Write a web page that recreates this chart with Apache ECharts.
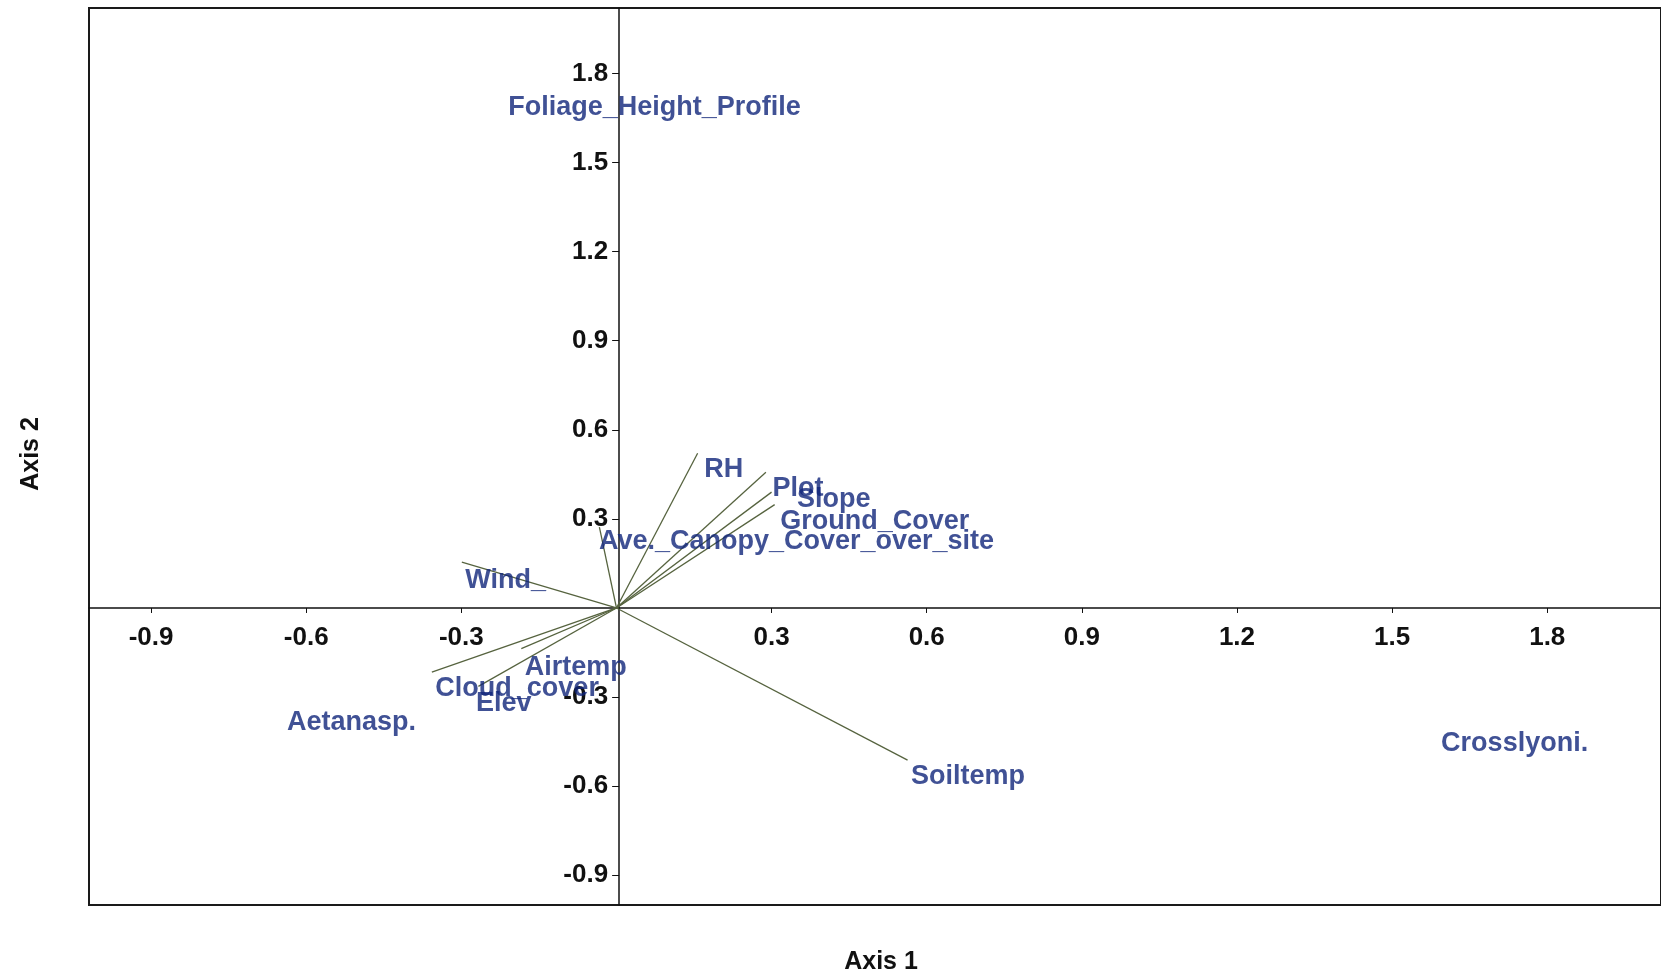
<!DOCTYPE html>
<html>
<head>
<meta charset="utf-8">
<script src="https://cdn.jsdelivr.net/npm/echarts@6/dist/echarts.min.js"></script>
<style>
  html, body { margin: 0; padding: 0; background: #fff; }
  #chart { width: 1661px; height: 970px; }
</style>
</head>
<body>
<div id="chart"></div>
<script>
// ---- data ----
const xTicks = [-0.9, -0.6, -0.3, 0.3, 0.6, 0.9, 1.2, 1.5, 1.8];
const yTicks = [-0.9, -0.6, -0.3, 0.3, 0.6, 0.9, 1.2, 1.5, 1.8];

// environmental vectors (biplot arrows from origin)
const vectorNames = ['RH', 'Plot', 'Slope', 'Ground_Cover', 'Ave._Canopy_Cover_over_site',
                     'Wind_', 'Cloud_cover', 'Elev', 'Airtemp', 'Soiltemp'];
const vectorX = [0.157, 0.289, 0.300, 0.306, -0.033, -0.299, -0.357, -0.267, -0.184, 0.563];
const vectorY = [0.521, 0.457, 0.390, 0.348, 0.272, 0.154, -0.216, -0.264, -0.137, -0.512];

// label-only points (species and un-drawn vector)
const pointNames = ['Foliage_Height_Profile', 'Aetanasp.', 'Crosslyoni.'];
const pointX = [-0.216, -0.644, 1.588];
const pointY = [1.738, -0.331, -0.402];

// ---- styling / layout ----
const FONT = '"Liberation Sans", Arial, sans-serif';
const BLUE = '#10267a';
const LINE = '#56633f';
const labelNudge = {
  'RH': [3, 0], 'Plot': [3, 0], 'Slope': [22, -9],
  'Ave._Canopy_Cover_over_site': [-4, -2], 'Elev': [-6, 1],
  'Airtemp': [0, 3], 'Wind_': [0, 2], 'Ground_Cover': [2, 1], 'Soiltemp': [0, 0]
};
const W = 1661, H = 970;
const G = { left: 89, right: -8, top: 8, bottom: 65 };
const X_MIN = -1.02, X_MAX = 2.02, Y_MIN = -1.0, Y_MAX = 2.02;
const gw = W - G.left - G.right, gh = H - G.top - G.bottom;
const yAxisOffset = -gw * (0 - X_MIN) / (X_MAX - X_MIN);
const xAxisOffset = -gh * (0 - Y_MIN) / (Y_MAX - Y_MIN);

const chart = echarts.init(document.getElementById('chart'));

const vecLines = vectorNames.map((n, i) => ({ coords: [[0, 0], [vectorX[i], vectorY[i]]] }));
const vecLabels = vectorNames.map((n, i) => {
  const d = { name: n, value: [vectorX[i], vectorY[i]] };
  if (labelNudge[n]) d.label = { offset: labelNudge[n] };
  return d;
});
const ptLabels = pointNames.map((n, i) => ({ name: n, value: [pointX[i], pointY[i]] }));

const labelStyle = {
  show: true,
  formatter: '{b}',
  position: [4, 3],
  align: 'left',
  verticalAlign: 'top',
  color: BLUE,
  fontFamily: FONT,
  fontWeight: 'bold',
  fontSize: 27
};

chart.setOption({
  animation: false,
  backgroundColor: '#fff',
  grid: {
    show: true,
    left: G.left, right: G.right, top: G.top, bottom: G.bottom,
    borderColor: '#1a1a1a', borderWidth: 2,
    backgroundColor: 'transparent'
  },
  xAxis: {
    type: 'value', min: X_MIN, max: X_MAX, position: 'bottom', offset: xAxisOffset,
    axisLine: { onZero: false, lineStyle: { color: '#111', width: 1.5 } },
    axisTick: { show: true, customValues: xTicks, length: 5, lineStyle: { color: '#111' } },
    axisLabel: {
      customValues: xTicks, margin: 17, color: '#111',
      fontFamily: FONT, fontWeight: 'bold', fontSize: 26,
      formatter: v => v.toFixed(1)
    },
    splitLine: { show: false }
  },
  yAxis: {
    type: 'value', min: Y_MIN, max: Y_MAX, position: 'left', offset: yAxisOffset,
    axisLine: { onZero: false, lineStyle: { color: '#111', width: 1.5 } },
    axisTick: { show: true, customValues: yTicks, length: 7, lineStyle: { color: '#111' } },
    axisLabel: {
      customValues: yTicks, margin: 11, color: '#111',
      fontFamily: FONT, fontWeight: 'bold', fontSize: 26,
      formatter: v => v.toFixed(1)
    },
    splitLine: { show: false }
  },
  graphic: [
    { type: 'text', x: 881, y: 962,
      style: { text: 'Axis 1', fill: '#111', font: 'bold 25px ' + FONT, align: 'center', verticalAlign: 'middle' } },
    { type: 'text', x: 31, y: 454, rotation: Math.PI / 2,
      style: { text: 'Axis 2', fill: '#111', font: 'bold 25px ' + FONT, align: 'center', verticalAlign: 'middle' } }
  ],
  series: [
    {
      type: 'lines', coordinateSystem: 'cartesian2d', silent: true, z: 3,
      lineStyle: { color: LINE, width: 1.3, opacity: 1 },
      data: vecLines
    },
    {
      type: 'scatter', silent: true, z: 4, symbolSize: 1,
      itemStyle: { color: 'rgba(0,0,0,0)' },
      label: labelStyle,
      data: vecLabels
    },
    {
      type: 'scatter', silent: true, z: 4, symbolSize: 1,
      itemStyle: { color: 'rgba(0,0,0,0)' },
      label: labelStyle,
      data: ptLabels
    }
  ]
});
</script>
</body>
</html>
